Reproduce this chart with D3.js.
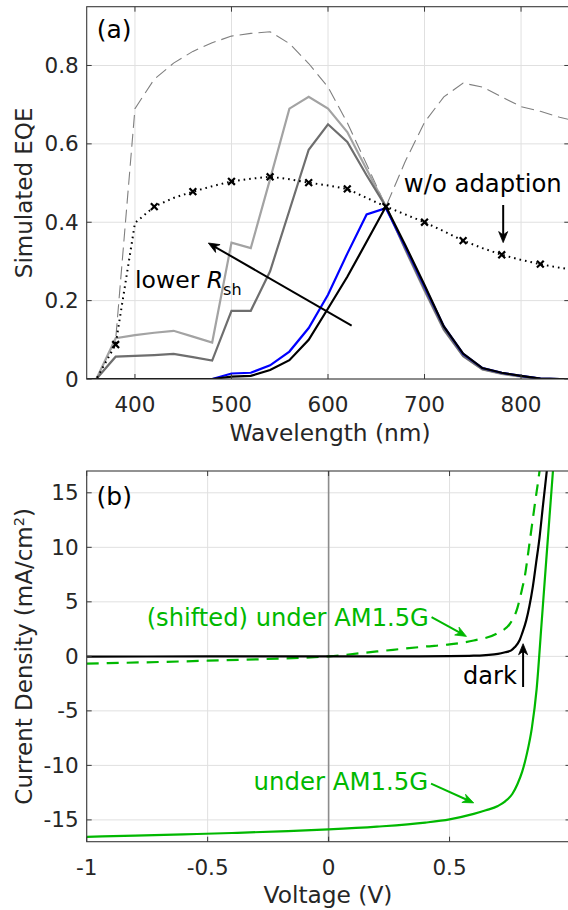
<!DOCTYPE html>
<html><head><meta charset="utf-8">
<script src="https://cdn.jsdelivr.net/npm/d3@7"></script>
<style>
html,body{margin:0;padding:0;background:#fff;}
svg{display:block;font-family:"DejaVu Sans",sans-serif;}
</style></head>
<body>
<script>
// ---------- Panel (a) data ----------
const wavelength = [350,360,380,400,420,440,460,480,500,520,540,560,580,600,620,640,660,680,700,720,740,760,780,800,820,840,850];
const eqeLowestRsh = [0,0,0.104,0.112,0.118,0.123,0.108,0.093,0.348,0.334,0.51,0.69,0.72,0.69,0.63,0.535,0.44,0.33,0.225,0.125,0.058,0.024,0.013,0.006,0.001,0,0];
const eqeLowRsh    = [0,0,0.057,0.059,0.061,0.064,0.056,0.047,0.174,0.174,0.275,0.43,0.585,0.65,0.605,0.52,0.44,0.333,0.228,0.127,0.059,0.025,0.014,0.007,0.001,0,0];
const eqeBlue      = [0,0,0,0,0,0,0,0,0.014,0.016,0.035,0.07,0.13,0.215,0.32,0.42,0.436,0.338,0.236,0.134,0.064,0.028,0.016,0.008,0.001,0,0];
const eqeHighRsh   = [0,0,0,0,0,0,0,0,0.006,0.008,0.023,0.048,0.1,0.18,0.261,0.35,0.44,0.342,0.24,0.134,0.065,0.028,0.016,0.008,0.001,0,0];
const eqeEnvelope  = [0,0,0.1,0.69,0.765,0.806,0.836,0.858,0.875,0.882,0.886,0.856,0.805,0.745,0.654,0.548,0.44,0.555,0.655,0.72,0.755,0.745,0.72,0.695,0.683,0.668,0.662];
const eqeNoAdapt   = [0,0,0.088,0.398,0.44,0.462,0.478,0.492,0.504,0.511,0.516,0.51,0.501,0.494,0.485,0.462,0.44,0.42,0.40,0.377,0.353,0.334,0.317,0.304,0.293,0.284,0.28];
const markerWl = [380,420,460,500,540,580,620,660,700,740,780,820];
const xTicksA = [400,500,600,700,800];
const yTicksA = [0,0.2,0.4,0.6,0.8];

// ---------- Panel (b) data ----------
const vLight = [-1,-0.8,-0.6,-0.4,-0.2,0,0.2,0.4,0.5,0.6,0.65,0.7,0.73,0.76,0.78,0.8,0.82,0.84,0.86,0.88,0.9,0.92,0.94];
const jLight = [-16.55,-16.45,-16.33,-16.2,-16.05,-15.87,-15.62,-15.25,-14.95,-14.45,-14.12,-13.72,-13.3,-12.6,-11.75,-10.6,-8.9,-6.6,-3.0,2.9,8.9,14.8,20.7];
const vDark = [-1,-0.5,0,0.3,0.5,0.6,0.65,0.7,0.73,0.755,0.77,0.79,0.8,0.817,0.83,0.844,0.858,0.872,0.886,0.902,0.915];
const jDark = [-0.02,-0.01,0,0,0.02,0.06,0.12,0.22,0.38,0.55,0.85,1.5,2.1,3.3,4.6,6.35,8.6,10.9,13.8,17,19.5];
const vShift = [-1,-0.5,-0.2,0,0.2,0.4,0.5,0.6,0.7,0.75,0.78,0.8,0.81,0.83,0.851,0.872,0.885];
const jShift = [-0.67,-0.4,-0.2,0,0.45,0.9,1.1,1.45,2.15,3.0,4.4,6.2,7.2,10.3,13.7,17,19.3];
const xTicksB = [-1,-0.5,0,0.5,1];
const xTickLabelsB = ["-1","-0.5","0","0.5",""];
const yTicksB = [-15,-10,-5,0,5,10,15];

const W = 568, H = 910;
const TXT = "#262626", AX = "#3a3a3a", GRID = "#e0e0e0";
const GREEN = "#00b800";

const svg = d3.select("body").append("svg").attr("width", W).attr("height", H);
const defs = svg.append("defs");

const xA = d3.scaleLinear().domain([350,850]).range([86.7,569.3]);
const yA = d3.scaleLinear().domain([0,0.95]).range([379,6.7]);
const xB = d3.scaleLinear().domain([-1,1]).range([86.7,570.5]);
const yB = d3.scaleLinear().domain([-17,17]).range([841.7,471]);

function frame(x, y, xt, yt, id) {
  const [x0,x1] = x.range(), [y0,y1] = [y.range()[1], y.range()[0]];
  const g = svg.append("g");
  defs.append("clipPath").attr("id", id).append("rect")
    .attr("x", x0).attr("y", y0).attr("width", x1-x0).attr("height", y1-y0);
  g.selectAll(null).data(xt).join("line")
    .attr("x1", d=>x(d)).attr("x2", d=>x(d)).attr("y1", y0).attr("y2", y1)
    .attr("stroke", GRID).attr("stroke-width", 1);
  g.selectAll(null).data(yt).join("line")
    .attr("y1", d=>y(d)).attr("y2", d=>y(d)).attr("x1", x0).attr("x2", x1)
    .attr("stroke", GRID).attr("stroke-width", 1);
  return {g, x0, x1, y0, y1};
}
function axesOverlay(f, x, y, xt, yt, xlab, ylab) {
  const g = svg.append("g");
  const {x0,x1,y0,y1} = f;
  const L = 5;
  xt.forEach(d => {
    g.append("line").attr("x1", x(d)).attr("x2", x(d)).attr("y1", y1).attr("y2", y1-L).attr("stroke", AX);
    g.append("line").attr("x1", x(d)).attr("x2", x(d)).attr("y1", y0).attr("y2", y0+L).attr("stroke", AX);
  });
  yt.forEach(d => {
    g.append("line").attr("y1", y(d)).attr("y2", y(d)).attr("x1", x0).attr("x2", x0+L).attr("stroke", AX);
    g.append("line").attr("y1", y(d)).attr("y2", y(d)).attr("x1", x1).attr("x2", x1-L).attr("stroke", AX);
  });
  g.append("rect").attr("x", x0).attr("y", y0).attr("width", x1-x0).attr("height", y1-y0)
    .attr("fill", "none").attr("stroke", AX).attr("stroke-width", 1.1);
  g.selectAll(null).data(xt).join("text")
    .attr("x", d=>x(d)).attr("y", y1+33).attr("text-anchor","middle")
    .attr("font-size", 21.5).attr("fill", TXT).text((d,i)=>xlab(d,i));
  g.selectAll(null).data(yt).join("text")
    .attr("x", x0-8).attr("y", d=>y(d)+7.5).attr("text-anchor","end")
    .attr("font-size", 21.5).attr("fill", TXT).text(d=>ylab(d));
  return g;
}
function arrow(g, p0, p1, color) {
  const dx = p1[0]-p0[0], dy = p1[1]-p0[1], len = Math.hypot(dx,dy);
  const ux = dx/len, uy = dy/len, nx = -uy, ny = ux;
  const hl = 11, hw = 4.5;
  const base = [p1[0]-ux*hl, p1[1]-uy*hl];
  g.append("line").attr("x1", p0[0]).attr("y1", p0[1])
    .attr("x2", p1[0]-ux*4).attr("y2", p1[1]-uy*4)
    .attr("stroke", color).attr("stroke-width", 2);
  const notch = [p1[0]-ux*hl*0.7, p1[1]-uy*hl*0.7];
  g.append("path").attr("d",
    `M${p1[0]},${p1[1]}L${base[0]+nx*hw},${base[1]+ny*hw}L${notch[0]},${notch[1]}L${base[0]-nx*hw},${base[1]-ny*hw}Z`)
    .attr("fill", color).attr("stroke", color).attr("stroke-width", 0.8);
}

// ================= Panel (a) =================
const fA = frame(xA, yA, xTicksA, yTicksA, "clipA");
const gA = svg.append("g").attr("clip-path", "url(#clipA)");
const pts = arr => wavelength.map((w,i)=>[w, arr[i]]);
const lineA = d3.line().x(d=>xA(d[0])).y(d=>yA(d[1]));

gA.append("path").attr("d", lineA(pts(eqeEnvelope))).attr("fill","none")
  .attr("stroke","#7f7f7f").attr("stroke-width",1.1).attr("stroke-dasharray","13,6");
gA.append("path").attr("d", lineA(pts(eqeLowestRsh))).attr("fill","none")
  .attr("stroke","#a3a3a3").attr("stroke-width",2.2);
gA.append("path").attr("d", lineA(pts(eqeLowRsh))).attr("fill","none")
  .attr("stroke","#6e6e6e").attr("stroke-width",2.2);
gA.append("path").attr("d", lineA(pts(eqeBlue))).attr("fill","none")
  .attr("stroke","#0000ff").attr("stroke-width",2.2);
gA.append("path").attr("d", lineA(pts(eqeHighRsh))).attr("fill","none")
  .attr("stroke","#000").attr("stroke-width",2.2);
gA.append("path").attr("d", lineA(pts(eqeNoAdapt))).attr("fill","none")
  .attr("stroke","#000").attr("stroke-width",2).attr("stroke-dasharray","1.6,4");
markerWl.forEach(w => {
  const v = eqeNoAdapt[wavelength.indexOf(w)];
  const cx = xA(w), cy = yA(v), s = 3.4;
  gA.append("path").attr("d", `M${cx-s},${cy-s}L${cx+s},${cy+s}M${cx-s},${cy+s}L${cx+s},${cy-s}`)
    .attr("stroke","#000").attr("stroke-width",2.2);
});
axesOverlay(fA, xA, yA, xTicksA, yTicksA, d=>String(d), d=>d===0?"0":d.toFixed(1));

const annA = svg.append("g");
annA.append("text").attr("x", xA(360.4)).attr("y", yA(0.87)).attr("font-size", 25).attr("fill", "#000").text("(a)");
arrow(annA, [xA(624.5), yA(0.136)], [xA(476), yA(0.347)], "#000");
const lr = annA.append("text").attr("x", xA(400.1)).attr("y", yA(0.232)).attr("font-size", 23.5).attr("fill", "#000");
lr.append("tspan").text("lower ");
lr.append("tspan").attr("font-style","italic").text("R");
lr.append("tspan").attr("font-size", 16).attr("dy", 7).text("sh");
annA.append("text").attr("x", xA(678.6)).attr("y", yA(0.478)).attr("font-size", 24.3).attr("fill","#000").text("w/o adaption");
arrow(annA, [xA(781.5), yA(0.444)], [xA(781.5), yA(0.348)], "#000");

svg.append("text").attr("x", 330).attr("y", 441)
  .attr("text-anchor","middle").attr("font-size", 23.3).attr("fill", TXT).text("Wavelength (nm)");
svg.append("text").attr("transform", `translate(32,${(yA.range()[0]+yA.range()[1])/2}) rotate(-90)`)
  .attr("text-anchor","middle").attr("font-size", 23).attr("fill", TXT).text("Simulated EQE");

// ================= Panel (b) =================
const fB = frame(xB, yB, xTicksB, yTicksB, "clipB");
const gB = svg.append("g").attr("clip-path", "url(#clipB)");
gB.append("line").attr("x1", xB(0)).attr("x2", xB(0)).attr("y1", fB.y0).attr("y2", fB.y1)
  .attr("stroke", "#8c8c8c").attr("stroke-width", 1.6);
const lineB = d3.line().x(d=>xB(d[0])).y(d=>yB(d[1])).curve(d3.curveMonotoneX);
const zipB = (v,j) => v.map((d,i)=>[d, j[i]]);
gB.append("path").attr("d", lineB(zipB(vShift, jShift))).attr("fill","none")
  .attr("stroke", GREEN).attr("stroke-width", 2.2).attr("stroke-dasharray","12,8");
gB.append("path").attr("d", lineB(zipB(vDark, jDark))).attr("fill","none")
  .attr("stroke", "#000").attr("stroke-width", 2.2);
gB.append("path").attr("d", lineB(zipB(vLight, jLight))).attr("fill","none")
  .attr("stroke", GREEN).attr("stroke-width", 2.2);
axesOverlay(fB, xB, yB, xTicksB, yTicksB, (d,i)=>xTickLabelsB[i], d=>String(d));

const annB = svg.append("g");
annB.append("text").attr("x", xB(-0.959)).attr("y", yB(13.9)).attr("font-size", 25).attr("fill","#000").text("(b)");
annB.append("text").attr("x", xB(-0.752)).attr("y", yB(2.75)).attr("font-size", 24.2).attr("fill", GREEN).text("(shifted) under AM1.5G");
arrow(annB, [xB(0.4256), yB(3.6)], [xB(0.570), yB(1.83)], GREEN);
annB.append("text").attr("x", xB(0.556)).attr("y", yB(-2.5)).attr("font-size", 24).attr("fill","#000").text("dark");
arrow(annB, [xB(0.804), yB(-2.81)], [xB(0.804), yB(1.16)], "#000");
annB.append("text").attr("x", xB(-0.31)).attr("y", yB(-12.28)).attr("font-size", 24.4).attr("fill", GREEN).text("under AM1.5G");
arrow(annB, [xB(0.4235), yB(-11.67)], [xB(0.600), yB(-13.44)], GREEN);

svg.append("text").attr("x", 328).attr("y", 903)
  .attr("text-anchor","middle").attr("font-size", 23.3).attr("fill", TXT).text("Voltage (V)");
const yl = svg.append("text").attr("transform", `translate(32,${(yB.range()[0]+yB.range()[1])/2}) rotate(-90)`)
  .attr("text-anchor","middle").attr("font-size", 23).attr("fill", TXT);
yl.append("tspan").text("Current Density (mA/cm");
yl.append("tspan").attr("font-size", 14.5).attr("dy", -8).text("2");
yl.append("tspan").attr("dy", 8).text(")");
</script>
</body></html>
